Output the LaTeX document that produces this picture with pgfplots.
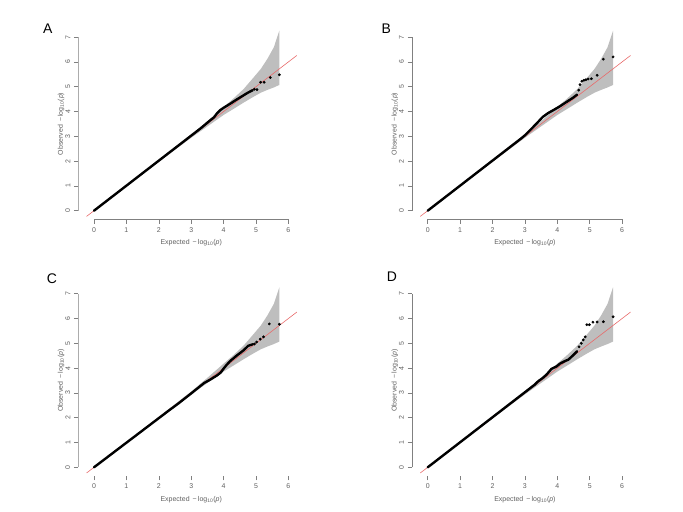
\documentclass[border=0pt]{standalone}
\usepackage{fontspec}
\setmainfont{Liberation Sans}
\usepackage{pgfplots}
\pgfplotsset{compat=1.18}
\usepackage{pgfplotstable}

\definecolor{bandgray}{HTML}{BEBEBE}
\definecolor{qqred}{HTML}{E86A6A}
\definecolor{axgray}{HTML}{808080}
\definecolor{txtgray}{HTML}{606060}

\pgfplotstableread{
x y
0 0
2 2.03
3 3.06
3.5 3.61
4 4.18
4.3 4.52
4.62 4.91
4.93 5.38
5.15 5.72
5.35 6.12
5.55 6.59
5.72 7.26
5.72 5.07
5.55 4.97
5.35 4.87
5.15 4.76
4.93 4.60
4.62 4.36
4.3 4.10
4 3.86
3.5 3.40
3 2.94
2 1.97
0 0
}\band

% Panel A
\pgfplotstableread{
x y
0 0
3.3 3.33
3.5 3.55
3.6 3.66
3.7 3.76
3.8 3.93
3.9 4.06
4.0 4.15
4.2 4.31
4.4 4.48
4.6 4.64
4.75 4.76
4.9 4.86
}\denseA
\pgfplotstableread{
x y
4.95 4.90
5.03 4.88
5.14 5.18
5.25 5.18
5.44 5.37
5.72 5.48
}\tailA

% Panel B
\pgfplotstableread{
x y
0 0
2.9 2.93
3.0 3.04
3.2 3.30
3.4 3.57
3.55 3.78
3.72 3.94
3.87 4.05
4.08 4.21
4.29 4.39
4.49 4.56
4.61 4.68
}\denseB
\pgfplotstableread{
x y
4.66 4.86
4.70 5.08
4.76 5.22
4.82 5.26
4.88 5.28
4.95 5.31
5.05 5.32
5.23 5.46
5.42 6.11
5.72 6.20
}\tailB

% Panel C
\pgfplotstableread{
x y
0 0
2.3 2.28
2.6 2.57
3.0 2.98
3.4 3.40
3.58 3.53
3.79 3.70
3.91 3.82
4.0 3.98
4.1 4.14
4.2 4.28
4.4 4.50
4.61 4.71
4.76 4.90
4.9 4.96
}\denseC
\pgfplotstableread{
x y
4.95 4.97
5.02 5.05
5.13 5.17
5.23 5.26
5.41 5.78
5.72 5.77
}\tailC

% Panel D
\pgfplotstableread{
x y
0 0
3.3 3.33
3.41 3.47
3.55 3.60
3.67 3.74
3.82 3.97
3.98 4.07
4.08 4.18
4.23 4.28
4.34 4.34
4.49 4.52
4.61 4.68
}\denseD
\pgfplotstableread{
x y
4.67 4.86
4.74 5.00
4.80 5.14
4.86 5.26
4.91 5.75
4.99 5.75
5.10 5.85
5.23 5.86
5.42 5.87
5.72 6.07
}\tailD

\pgfplotsset{qq/.style={
  scale only axis, width=218.54bp, height=195.92bp,
  xmin=-0.485, xmax=6.26, ymin=-0.35, ymax=7.55,
  axis x line*=bottom, axis y line*=left, axis line style={draw=none},
  xtick={0,...,6}, ytick={0,...,7},
  tick align=outside, major tick length=4.5bp,
  every tick/.style={axgray, line width=0.5bp},
  tick label style={font=\fontsize{7}{8}\selectfont, text=txtgray},
  /pgf/number format/assume math mode=true,
  yticklabel style={rotate=90, anchor=south},
  xlabel={Expected \,−\,log\textsubscript{10}(\textit{p})},
  ylabel={Observed \,−\,log\textsubscript{10}(\textit{p})},
  label style={font=\fontsize{7}{8}\selectfont, text=txtgray},
  xlabel style={at={(axis description cs:0.5167,0)}, anchor=center, yshift=-23.4bp},
  ylabel style={at={(axis description cs:0,0.487)}, anchor=center, yshift=17.3bp},
}}

\newcommand{\qqpanel}[2]{%
  \addplot[fill=bandgray, draw=none] table {\band};
  \addplot[qqred, line width=0.6bp] coordinates {(-0.23,-0.23) (6.26,6.26)};
  \addplot[black, line width=2.4bp, line cap=round, line join=round] table {#1};
  \addplot[only marks, mark=*, mark size=1.2bp, black] table {#2};
  \draw[axgray, line width=0.5bp] (axis cs:0,-0.35) -- (axis cs:6,-0.35);
  \draw[axgray, line width=0.5bp] (axis cs:-0.485,0) -- (axis cs:-0.485,7);
}

\begin{document}
\begin{tikzpicture}
\path[use as bounding box] (0,0) rectangle (683bp,512bp);

\begin{axis}[qq, at={(78.29bp,292.62bp)}, anchor=south west]
\qqpanel{\denseA}{\tailA}
\end{axis}
\begin{axis}[qq, at={(412.0bp,292.62bp)}, anchor=south west]
\qqpanel{\denseB}{\tailB}
\end{axis}
\begin{axis}[qq, at={(78.29bp,36.02bp)}, anchor=south west]
\qqpanel{\denseC}{\tailC}
\end{axis}
\begin{axis}[qq, at={(412.0bp,36.02bp)}, anchor=south west]
\qqpanel{\denseD}{\tailD}
\end{axis}

\node[font=\fontsize{14}{16}\selectfont, inner sep=0] at (47.7bp,483bp) {A};
\node[font=\fontsize{14}{16}\selectfont, inner sep=0] at (386.2bp,483.7bp) {B};
\node[font=\fontsize{14}{16}\selectfont, inner sep=0] at (52bp,233.7bp) {C};
\node[font=\fontsize{14}{16}\selectfont, inner sep=0] at (392bp,235.7bp) {D};
\end{tikzpicture}
\end{document}
